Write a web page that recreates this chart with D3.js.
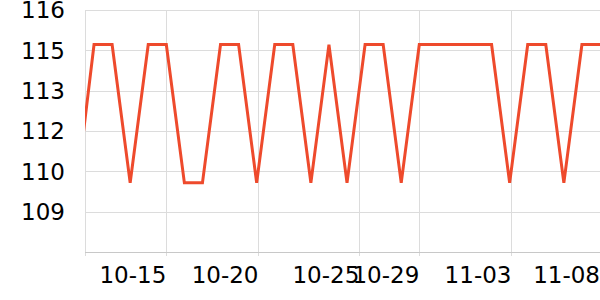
<!DOCTYPE html>
<html>
<head>
<meta charset="utf-8">
<script src="https://cdn.jsdelivr.net/npm/d3@7"></script>
<style>
  body { margin: 0; background: #fff; }
  text { font-family: "DejaVu Sans", sans-serif; }
</style>
</head>
<body>
<script>
// daily values, first point sits left of the visible window
const dates = ["2023-10-10", "2023-10-11", "2023-10-12", "2023-10-13", "2023-10-14",
  "2023-10-15", "2023-10-16", "2023-10-17", "2023-10-18", "2023-10-19",
  "2023-10-20", "2023-10-21", "2023-10-22", "2023-10-23", "2023-10-24",
  "2023-10-25", "2023-10-26", "2023-10-27", "2023-10-28", "2023-10-29",
  "2023-10-30", "2023-10-31", "2023-11-01", "2023-11-02", "2023-11-03",
  "2023-11-04", "2023-11-05", "2023-11-06", "2023-11-07", "2023-11-08"];
const values = [109.6, 114.8, 114.8, 110, 114.8,
  114.8, 110, 110, 114.8, 114.8,
  110, 114.8, 114.8, 110, 114.8,
  110, 114.8, 114.8, 110, 114.8,
  114.8, 114.8, 114.8, 114.8, 110,
  114.8, 114.8, 110, 114.8, 114.8];

// visible time window and axis ticks
const xRange = ["2023-10-10T12:00", "2023-11-08T00:00"];
const xTicks = ["2023-10-10T12:00", "2023-10-15T00:00", "2023-10-20T02:24", "2023-10-25T16:20",
  "2023-10-29T00:00", "2023-11-03T02:24", "2023-11-08T00:00"];
const xTickLabels = ["", "10-15", "10-20", "10-25", "10-29", "11-03", "11-08"];

const yRange = [107.6, 116];
const yTicks = [107.6, 109, 110.4, 111.8, 113.2, 114.6, 116];
const yTickLabels = ["", "109", "110", "112", "113", "115", "116"];

const margin = {top: 10, right: 0, bottom: 48, left: 85},
  width = 600 - margin.left - margin.right,
  height = 300 - margin.top - margin.bottom;

const parseDay = d3.utcParse("%Y-%m-%d");
const parseTime = d3.utcParse("%Y-%m-%dT%H:%M");

const svg = d3.select("body")
  .append("svg")
    .attr("width", 600)
    .attr("height", 300)
  .append("g")
    .attr("transform", `translate(${margin.left}, ${margin.top})`);

const x = d3.scaleUtc()
  .domain(xRange.map(parseTime))
  .range([0, width]);

const y = d3.scaleLinear()
  .domain(yRange)
  .range([height, 0]);

// horizontal grid
svg.selectAll(".hgrid")
  .data(yTicks.slice(1))
  .join("line")
    .attr("x1", 0)
    .attr("x2", width)
    .attr("y1", d => Math.round(y(d)) + 0.5)
    .attr("y2", d => Math.round(y(d)) + 0.5)
    .attr("stroke", "#dcdcdc");

// vertical grid + small ticks below the axis
svg.selectAll(".vgrid")
  .data(xTicks)
  .join("line")
    .attr("x1", d => Math.round(x(parseTime(d))) + 0.5)
    .attr("x2", d => Math.round(x(parseTime(d))) + 0.5)
    .attr("y1", 0)
    .attr("y2", height + 4)
    .attr("stroke", "#dcdcdc");

// x axis line
svg.append("line")
  .attr("x1", 0)
  .attr("x2", width)
  .attr("y1", height + 0.5)
  .attr("y2", height + 0.5)
  .attr("stroke", "#c8c8c8");

// y labels
svg.selectAll(".ylab")
  .data(yTicks)
  .join("text")
    .attr("x", -20)
    .attr("y", d => y(d))
    .attr("dy", "0.36em")
    .attr("text-anchor", "end")
    .attr("font-size", "23px")
    .attr("fill", "#000")
    .text((d, i) => yTickLabels[i]);

// x labels, right edge on the tick
svg.selectAll(".xlab")
  .data(xTicks)
  .join("text")
    .attr("x", d => x(parseTime(d)))
    .attr("y", height + 31)
    .attr("text-anchor", "end")
    .attr("font-size", "23px")
    .attr("fill", "#000")
    .text((d, i) => xTickLabels[i]);

svg.append("clipPath")
  .attr("id", "plot-clip")
  .append("rect")
    .attr("x", 0)
    .attr("y", -10)
    .attr("width", width)
    .attr("height", height + 10);

const points = dates.map((d, i) => ({date: parseDay(d), value: values[i]}));

svg.append("path")
  .datum(points)
  .attr("clip-path", "url(#plot-clip)")
  .attr("fill", "none")
  .attr("stroke", "#ee4a2c")
  .attr("stroke-width", 3)
  .attr("stroke-linejoin", "miter")
  .attr("d", d3.line()
    .x(d => x(d.date))
    .y(d => y(d.value)));
</script>
</body>
</html>
